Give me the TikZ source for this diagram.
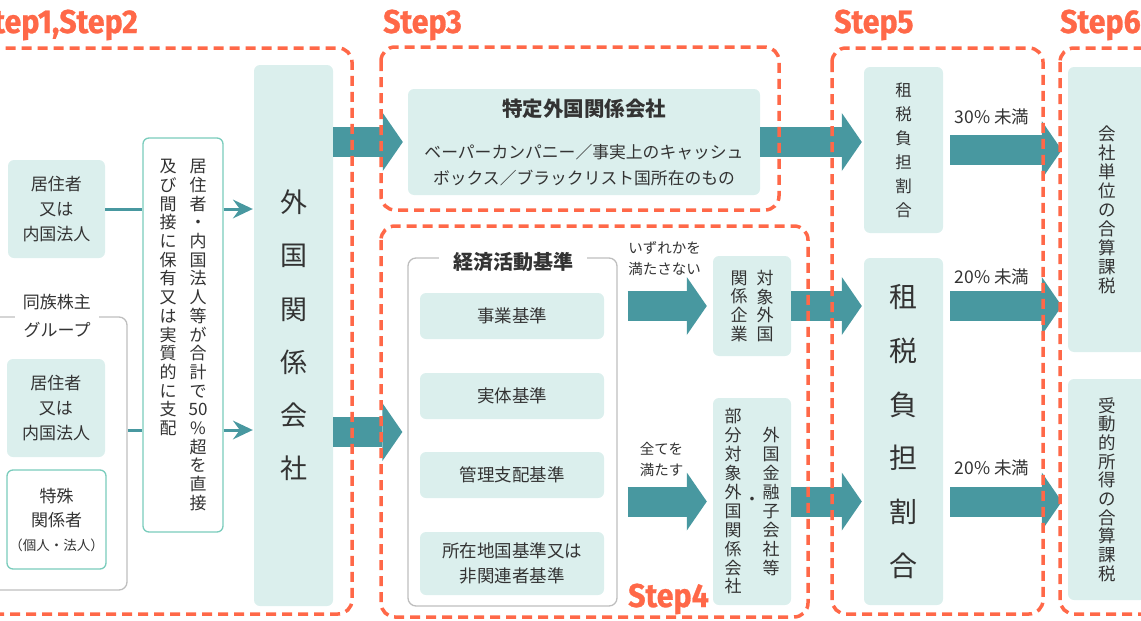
\documentclass[tikz,border=0pt]{standalone}
\usepackage{fontspec}
\setmainfont{Noto Sans CJK JP}
\newfontfamily\stepfont{Fira Sans}[FakeStretch=0.92,BoldFeatures={FakeBold=0.8}]
\usetikzlibrary{arrows.meta}
\definecolor{stepred}{RGB}{255,104,72}
\definecolor{arrowteal}{RGB}{72,152,160}
\definecolor{boxfill}{RGB}{219,239,237}
\definecolor{boxline}{RGB}{122,204,188}
\definecolor{grayline}{RGB}{190,190,190}
\definecolor{txt}{RGB}{51,51,51}
% vertical text, one character per line
\def\tateA#1{\ifx\relax#1\else\hbox to 1em{\hss#1\hss}\expandafter\tateA\fi}
\newcommand\tate[1]{$\vcenter{\tateA#1\relax}$}
\newcommand\tatetop[1]{\vtop{\tateA#1\relax}}
\tikzset{
  lbox/.style={fill=boxfill, rounded corners=6pt, inner sep=0pt, align=center, text=txt},
  wbox/.style={fill=white, draw=boxline, line width=1.3pt, rounded corners=6pt, inner sep=0pt, align=center, text=txt},
  gbox/.style={draw=grayline, line width=1.3pt, rounded corners=8pt, inner sep=0pt},
  kitem/.style={lbox, minimum width=184pt, font=\fontsize{17.5}{25}\selectfont},
  tag/.style={text=txt, inner sep=0pt, align=center},
  stepframe/.style={draw=stepred, line width=3.5pt, dash pattern=on 10pt off 6pt, rounded corners=14pt},
  steplabel/.style={text=stepred, inner sep=0pt, font=\stepfont\bfseries\fontsize{33}{33}\selectfont},
  bigarrow/.style={draw=arrowteal, line width=30pt, -{Triangle[length=20pt,width=58pt,line width=0pt]}},
  thinarrow/.style={draw=arrowteal, line width=3pt}
}
\begin{document}
\begin{tikzpicture}[x=1pt,y=-1pt]
\useasboundingbox (0,0) rectangle (1141,621);
% Step1, Step2
\node[lbox, minimum width=97pt, minimum height=98pt, font=\fontsize{17}{25}\selectfont] (jukyo1) at (56.5,209) {居住者\\又は\\内国法人};
\node[gbox, minimum width=137pt, minimum height=273pt] (dozoku) at (58.5,453.5) {};
\node[tag, fill=white, inner xsep=8pt, inner ysep=2pt, font=\fontsize{17}{28}\selectfont] (dozokulbl) at (57,316) {同族株主\\グループ};
\node[lbox, minimum width=98pt, minimum height=98pt, font=\fontsize{17}{25}\selectfont] (jukyo2) at (56,408) {居住者\\又は\\内国法人};
\node[wbox, minimum width=99pt, minimum height=99pt, font=\fontsize{17}{24}\selectfont] (tokushu) at (56.5,519.5) {特殊\\関係者\\{\fontsize{13.5}{22}\selectfont（個人・法人）}};
\node[wbox, minimum width=80pt, minimum height=394pt, font=\fontsize{17}{18.7}\selectfont] (hoyu) at (183,335)
  {\tatetop{及び間接に保有又は実質的に支配}\hspace{13pt}\tatetop{居住者・内国法人等が合計で{50}\%超を直接}};
\node[lbox, minimum width=79pt, minimum height=541pt, font=\fontsize{27}{53.2}\selectfont] (kaisha) at (293.5,335.5) {\tate{外国関係会社}};
\coordinate (lowrow) at (0,430);
\draw[thinarrow] (jukyo1.east) -- (hoyu.west |- jukyo1.east);
\draw[thinarrow, -{Stealth[length=20pt,width=19pt,inset=7pt,line width=0pt]}] (hoyu.east |- jukyo1.east) -- ([xshift=-1pt]kaisha.west |- jukyo1.east);
\draw[thinarrow] (dozoku.east |- lowrow) -- (hoyu.west |- lowrow);
\draw[thinarrow, -{Stealth[length=20pt,width=19pt,inset=7pt,line width=0pt]}] (hoyu.east |- lowrow) -- ([xshift=-1pt]kaisha.west |- lowrow);
% Step3
\node[lbox, minimum width=352pt, minimum height=106pt, font=\fontsize{16.8}{26}\selectfont] (tokutei) at (584,142)
  {{\bfseries\fontsize{20.5}{26}\selectfont 特定外国関係会社}\\[16pt]ベーパーカンパニー／事実上のキャッシュ\\ボックス／ブラックリスト国所在のもの};
% Step4
\node[gbox, minimum width=209pt, minimum height=348pt] (kijun) at (512.5,432) {};
\node[tag, fill=white, inner xsep=14pt, inner ysep=2pt, font=\bfseries\fontsize{20}{24}\selectfont] (kijunlbl) at (513,262) {経済活動基準};
\node[kitem, minimum height=46pt] (jigyo) at (512,316) {事業基準};
\node[kitem, minimum height=46pt] (jittai) at (512,396) {実体基準};
\node[kitem, minimum height=46pt] (kanri) at (512,475) {管理支配基準};
\node[kitem, minimum height=63pt] (shozai) at (512,563.5) {所在地国基準又は\\非関連者基準};
\node[lbox, minimum width=78pt, minimum height=100pt, font=\fontsize{17}{18.7}\selectfont] (taisho) at (752,306) {\tate{関係企業}\hspace{9pt}\tate{対象外国}};
\node[lbox, minimum width=78pt, minimum height=207pt, font=\fontsize{17}{18.9}\selectfont] (bubun) at (752,501.5)
  {\tate{部分対象外国関係会社}\hspace{2pt}\tate{・}\hspace{2pt}\tate{外国金融子会社等}};
\node[tag, font=\fontsize{14.5}{21}\selectfont] (izure) at (664.5,258.5) {いずれかを\\満たさない};
\node[tag, font=\fontsize{14.5}{21}\selectfont] (subete) at (661.5,459.5) {全てを\\満たす};
% Step5
\node[lbox, minimum width=79pt, minimum height=166pt, font=\fontsize{16.5}{24}\selectfont] (sozei1) at (903.5,150) {\tate{租税負担割合}};
\node[lbox, minimum width=79pt, minimum height=347pt, font=\fontsize{28}{53.8}\selectfont] (sozei2) at (903.5,431.5) {\tate{租税負担割合}};
\node[tag, font=\fontsize{17.5}{20}\selectfont] (lbl30) at (992,117) {30\% 未満};
\node[tag, font=\fontsize{17.5}{20}\selectfont] (lbl20a) at (992,277) {20\% 未満};
\node[tag, font=\fontsize{17.5}{20}\selectfont] (lbl20b) at (992,468) {20\% 未満};
% Step6
\node[lbox, minimum width=78pt, minimum height=285pt, font=\fontsize{17.5}{19}\selectfont] (goushi) at (1107,209.5) {\tate{会社単位の合算課税}};
\node[lbox, minimum width=78pt, minimum height=221pt, font=\fontsize{17.5}{18.7}\selectfont] (judo) at (1107,489.5) {\tate{受動的所得の合算課税}};
% big arrows
\draw[bigarrow, shorten >=5pt] (kaisha.east |- tokutei.west) -- (tokutei.west);
\draw[bigarrow, shorten >=5pt] (kaisha.east |- kijun.west) -- (kijun.west);
\draw[bigarrow, shorten >=2pt] (tokutei.east) -- (sozei1.west |- tokutei.east);
\draw[bigarrow, shorten >=6pt] (kijun.east |- taisho.west) ++(10,0) -- (taisho.west);
\draw[bigarrow, shorten >=6pt] (kijun.east |- bubun.west) ++(10,0) -- (bubun.west);
\draw[bigarrow, shorten >=2pt] (taisho.east) -- (sozei2.west |- taisho.east);
\draw[bigarrow, shorten >=2pt] (bubun.east) -- (sozei2.west |- bubun.east);
\draw[bigarrow, shorten >=6pt] (sozei1.east) ++(7,0) -- (goushi.west |- sozei1.east);
\draw[bigarrow, shorten >=6pt] (sozei2.east |- taisho.east) ++(7,0) -- (goushi.west |- taisho.east);
\draw[bigarrow, shorten >=6pt] (sozei2.east |- bubun.east) ++(7,0) -- (judo.west |- bubun.east);
% frames
\draw[stepframe] (-20,48) rectangle (352,614);
\draw[stepframe] (381,47) rectangle (779,210);
\draw[stepframe] (381,226) rectangle (808,617);
\draw[stepframe] (832,48) rectangle (1043,614);
\draw[stepframe] (1060,48) rectangle (1200,614);
% labels
\node[steplabel, anchor=base east] (step12) at (138,33) {Step1,Step2};
\node[steplabel, anchor=base west] (step3) at (383,33) {Step3};
\node[steplabel, anchor=base west] (step4) at (628,607) {Step4};
\node[steplabel, anchor=base west] (step5) at (834,33) {Step5};
\node[steplabel, anchor=base west] (step6) at (1060,33) {Step6};
\end{tikzpicture}
\end{document}
